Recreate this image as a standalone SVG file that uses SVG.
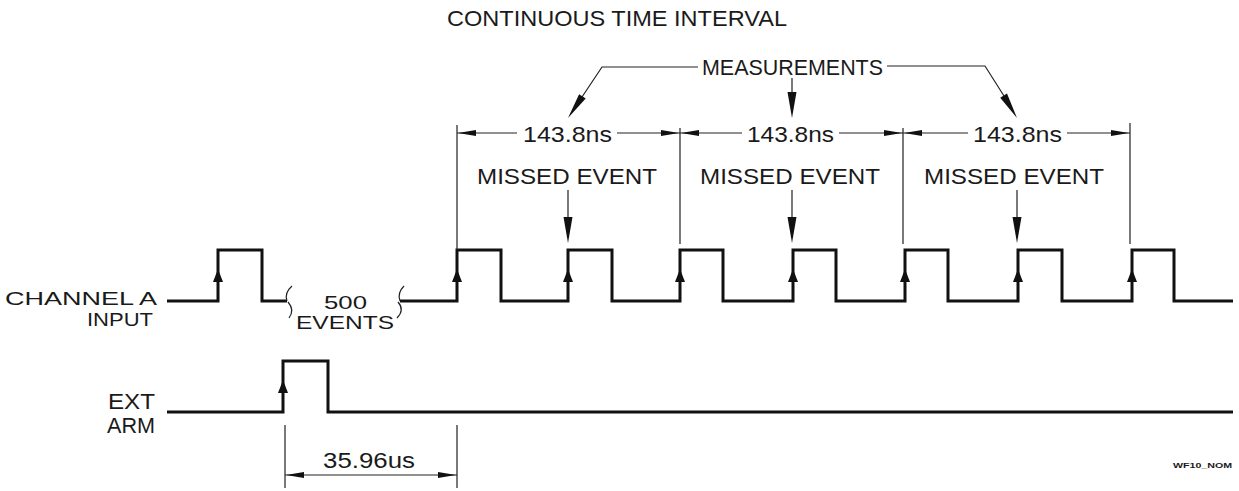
<svg xmlns="http://www.w3.org/2000/svg" width="1239" height="491" viewBox="0 0 1239 491">
<style>
text{font-family:"Liberation Sans","DejaVu Sans",sans-serif;fill:#1a1a1a;}
.lbl{font-size:22px;}
.sm{font-size:18px;}
.wave{fill:none;stroke:#111;stroke-width:3;stroke-linejoin:miter;}
.thin{fill:none;stroke:#222;stroke-width:1.2;}
.head{fill:#111;stroke:none;}
</style>
<defs>
<path id="up" d="M0,0 L-5,13 L5,13 Z"/>
<path id="dn" d="M0,0 L-4.5,-26 L4.5,-26 Z"/>
<path id="lt" d="M0,0 L18,-3 L18,3 Z"/>
<path id="rt" d="M0,0 L-18,-3 L-18,3 Z"/>
</defs>
<rect width="1239" height="491" fill="#fff"/>

<g id="title"><text class="lbl" x="447" y="26" textLength="340" lengthAdjust="spacingAndGlyphs">CONTINUOUS TIME INTERVAL</text></g>

<g id="measurements">
<text class="lbl" x="702" y="75" textLength="181" lengthAdjust="spacingAndGlyphs">MEASUREMENTS</text>
</g>

<g id="labels">
<text class="sm" x="157" y="305" text-anchor="end" textLength="152" lengthAdjust="spacingAndGlyphs">CHANNEL A</text>
<text class="sm" x="153" y="326" text-anchor="end" textLength="66" lengthAdjust="spacingAndGlyphs">INPUT</text>
<text class="lbl" x="155" y="409" text-anchor="end" textLength="47" lengthAdjust="spacingAndGlyphs">EXT</text>
<text class="lbl" x="155" y="433" text-anchor="end" textLength="48" lengthAdjust="spacingAndGlyphs">ARM</text>
<text class="sm" x="324" y="309" textLength="43" lengthAdjust="spacingAndGlyphs">500</text>
<text class="sm" x="296" y="329" textLength="98" lengthAdjust="spacingAndGlyphs">EVENTS</text>
<text class="lbl" x="477" y="184" textLength="180" lengthAdjust="spacingAndGlyphs">MISSED EVENT</text>
<text class="lbl" x="700" y="184" textLength="180" lengthAdjust="spacingAndGlyphs">MISSED EVENT</text>
<text class="lbl" x="924" y="184" textLength="180" lengthAdjust="spacingAndGlyphs">MISSED EVENT</text>
<text class="lbl" x="523" y="141.5" textLength="89" lengthAdjust="spacingAndGlyphs">143.8ns</text>
<text class="lbl" x="747" y="141.5" textLength="87" lengthAdjust="spacingAndGlyphs">143.8ns</text>
<text class="lbl" x="973" y="141.5" textLength="89" lengthAdjust="spacingAndGlyphs">143.8ns</text>
<text class="lbl" x="323" y="468" textLength="92" lengthAdjust="spacingAndGlyphs">35.96us</text>
<text x="1173" y="468" font-size="8" font-weight="bold" textLength="59" lengthAdjust="spacingAndGlyphs">WF10_NOM</text>
</g>

<g id="channel-a">
<path class="wave" d="M167,301 H218 V250 H262 V301 H287"/>
<path class="wave" d="M400,301 H457 V250 H501 V301 H568 V250 H612 V301 H680 V250 H723 V301 H793 V250 H836 V301 H905 V250 H948 V301 H1018 V250 H1062 V301 H1132 V250 H1174 V301 H1233"/>
<path class="thin" d="M287,301 Q284,293 292,286 M288,302 Q295,310 289,318"/>
<path class="thin" d="M400,301 Q397,293 404,286 M398,302 Q405,310 397,318"/>
<use href="#up" class="head" x="218" y="269"/>
<use href="#up" class="head" x="457" y="269"/>
<use href="#up" class="head" x="568" y="269"/>
<use href="#up" class="head" x="680" y="269"/>
<use href="#up" class="head" x="793" y="269"/>
<use href="#up" class="head" x="905" y="269"/>
<use href="#up" class="head" x="1018" y="269"/>
<use href="#up" class="head" x="1132" y="269"/>
</g>

<g id="ext-arm">
<path class="wave" d="M167,412 H283 V361 H328 V412 H1233"/>
<use href="#up" class="head" x="283" y="380"/>
</g>

<g id="connectors">
<path class="thin" d="M698,67 H602 L582,97"/>
<path class="head" d="M568,118 L585.7,98.6 L579.1,94.2 Z"/>
<path class="thin" d="M792,78 V96"/>
<use href="#dn" class="head" x="792" y="118"/>
<path class="thin" d="M887,66 H985 L1004,96"/>
<path class="head" d="M1017,118 L1007,93.6 L1000.2,97.8 Z"/>
<path class="thin" d="M457,125 V250 M680,128 V244 M903,128 V244 M1130,123 V244"/>
<path class="thin" d="M457,133 H517 M617,133 H680 M680,133 H742 M839,133 H903 M903,133 H968 M1067,133 H1130"/>
<use href="#lt" class="head" x="458" y="133"/>
<use href="#rt" class="head" x="679" y="133"/>
<use href="#lt" class="head" x="681" y="133"/>
<use href="#rt" class="head" x="902" y="133"/>
<use href="#lt" class="head" x="904" y="133"/>
<use href="#rt" class="head" x="1129" y="133"/>
<path class="thin" d="M568,190 V218 M792,190 V218 M1017,190 V218"/>
<use href="#dn" class="head" x="568" y="243"/>
<use href="#dn" class="head" x="792" y="243"/>
<use href="#dn" class="head" x="1017" y="243"/>
<path class="thin" d="M285,425 V488 M457,425 V488 M285,475 H457"/>
<use href="#lt" class="head" x="286" y="475"/>
<use href="#rt" class="head" x="456" y="475"/>
</g>
</svg>
